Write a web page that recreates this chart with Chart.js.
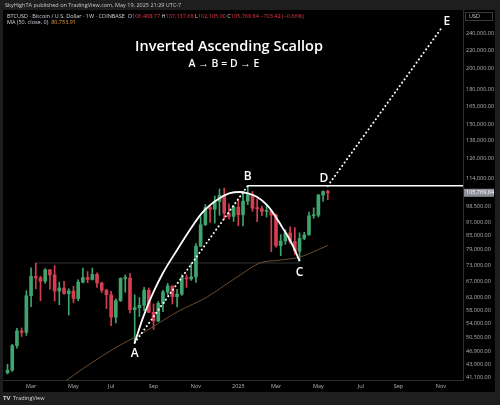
<!DOCTYPE html>
<html>
<head>
<meta charset="utf-8">
<script src="https://cdn.jsdelivr.net/npm/chart.js@4.4.1/dist/chart.umd.min.js"></script>
<style>
  html, body { margin: 0; padding: 0; background: #1e1e1e; }
  #wrap { width: 500px; height: 405px; }
</style>
</head>
<body>
<div id="wrap"><canvas id="myChart" width="500" height="405"></canvas></div>
<script>
// weekly candles, week 0 = 2024-01-29 (BTCUSD, Coinbase)
const weekOpen = [42000, 42600, 48300, 52100, 51700, 62400, 68900, 68400, 67200, 71300, 69400, 63900, 64900, 63100, 63900, 61500, 66900, 68500, 67800, 69600,
  66600, 64200, 62700, 55900, 60800, 68200, 68300, 58100, 58700, 59400, 64200, 57300, 54800, 60000, 63600, 65600, 62100, 62900, 68400, 68000,
  68700, 80400, 89800, 98000, 97200, 101100, 104400, 95200, 93700, 98300, 94500, 101300, 104700, 97700, 97500, 96100, 96300, 94300, 80700, 82600,
  86100, 82400, 78400, 83700, 85200, 94000, 94300, 104600, 106488.77];
const weekHigh = [43900, 48600, 52800, 52900, 64000, 72000, 73800, 68900, 71700, 71300, 72800, 66900, 67200, 64700, 65500, 67700, 71900, 70600, 71900, 70200,
  66900, 64500, 63800, 61400, 68400, 69400, 70000, 62700, 61800, 65100, 64900, 59800, 60600, 64100, 66500, 65600, 64500, 69500, 69500, 73600,
  81500, 93500, 99600, 98700, 104000, 107800, 108300, 99900, 99000, 102500, 106400, 109600, 106500, 102500, 98800, 99500, 96500, 95000, 85300, 87500,
  88800, 88500, 86100, 86400, 95800, 97900, 104900, 106800, 107137.68];
const weekLow = [41800, 42300, 47700, 50600, 50900, 59000, 64600, 60800, 66500, 64500, 60700, 59600, 62800, 56500, 60200, 60800, 66600, 66700, 67600, 65100,
  63400, 58400, 53500, 54300, 60600, 63500, 57100, 49000, 56100, 57800, 57200, 52500, 54600, 57500, 62700, 59800, 58900, 62500, 65100, 67500,
  66800, 80200, 89400, 90800, 90500, 94200, 92200, 92500, 91300, 89300, 89200, 99500, 96200, 91200, 94100, 93400, 78200, 80000, 76600, 81200,
  81600, 77100, 74500, 83100, 85100, 92800, 93400, 101300, 102105.00];
const weekClose = [42600, 48300, 52100, 51700, 62400, 68900, 68400, 67200, 71300, 69400, 63900, 64900, 63100, 63900, 61500, 66900, 68500, 67800, 69600, 66600,
  64200, 62700, 55900, 60800, 68200, 68300, 58100, 58700, 59400, 64200, 57300, 54800, 60000, 63600, 65600, 62100, 62900, 68400, 68000, 68700,
  80400, 89800, 98000, 97200, 101100, 104400, 95200, 93700, 98300, 94500, 101300, 104700, 97700, 97500, 96100, 96300, 94300, 80700, 82600, 86100,
  82400, 78400, 83700, 85200, 94000, 94300, 104600, 106473.26, 105769.84];

// 50 week moving average
const maWeek = [10, 12.6, 22.8, 28.8, 36.0, 42.4, 46.2, 49.4, 53.6, 57.9, 62.1, 68];
const maValue = [38500, 40500, 47700, 51600, 57400, 62000, 65900, 69400, 73800, 74900, 76100, 80753.91];

// hand drawn scallop arc A -> B -> C
const scallopWeek = [27, 28.8, 30.9, 33.0, 36.0, 38.7, 41.3, 43.0, 45.1, 47.2, 49.4, 50.8, 53.0, 55.1, 56.4, 58.3, 59.6, 61.0, 62.0];
const scallopPrice = [49000, 55900, 63300, 70100, 78900, 87400, 95400, 99300, 103000, 105600, 106200, 105600, 103500, 99300, 95400, 88700, 84300, 78900, 74500];

// pattern points
const pointNames = ['A', 'B', 'C', 'D', 'E'];
const pointWeek = [27, 51, 62, 68, 92];
const pointPrice = [49000, 109600, 74500, 109600, 245000];

// old high line (Mar 2024 high)
const oldHighWeek = [6, 62];
const oldHighPrice = 73800;

// axis ticks
const monthTickWeek = [5, 14, 22, 31, 40, 49, 57, 66, 75, 83, 92];
const monthTickLabel = ['Mar', 'May', 'Jul', 'Sep', 'Nov', '2025', 'Mar', 'May', 'Jul', 'Sep', 'Nov'];
const priceTicks = [240000, 220000, 200000, 180000, 165000, 150000, 138000, 126000, 114000, 98500, 91000, 85000,
  79000, 73000, 67000, 62000, 58000, 54000, 50500, 46900, 43900, 41100];

const upColor = '#3fa46d';
const downColor = '#d43f50';
const fontFam = "'Open Sans', sans-serif";

const candleColors = weekOpen.map((o, i) => weekClose[i] >= o ? upColor : downColor);
const pt = (i) => ({x: pointWeek[i], y: pointPrice[i]});

function fmt(v) {
  return v.toLocaleString('en-US', {minimumFractionDigits: 2, maximumFractionDigits: 2});
}

function drawRuns(ctx, x, y, runs) {
  runs.forEach(([txt, col]) => {
    ctx.fillStyle = col;
    ctx.fillText(txt, x, y);
    x += ctx.measureText(txt).width;
  });
}

const decor = {
  id: 'decor',
  beforeDraw(chart) {
    const ctx = chart.ctx;
    ctx.save();
    ctx.fillStyle = '#1e1e1e';
    ctx.fillRect(0, 0, 500, 405);
    ctx.fillStyle = '#000';
    ctx.fillRect(3, 10, 492, 382);
    ctx.restore();
  },
  afterDraw(chart) {
    const ctx = chart.ctx;
    const xs = chart.scales.x, ys = chart.scales.y;
    const last = weekClose.length - 1;
    ctx.save();
    ctx.textBaseline = 'middle';

    // header bar
    ctx.font = '5.5px ' + fontFam;
    ctx.textAlign = 'left';
    ctx.fillStyle = '#c8c8c8';
    ctx.fillText('SkyHighTA published on TradingView.com, May 19, 2025 21:29 UTC-7', 5, 5);

    // legend
    const grey = '#d1d4dc', red = '#f23645';
    const chg = weekClose[last] - weekClose[last - 1];
    drawRuns(ctx, 7, 16, [
      ['BTCUSD · Bitcoin / U.S. Dollar · 1W · COINBASE  ', grey],
      ['O', grey], [fmt(weekOpen[last]) + ' ', red],
      ['H', grey], [fmt(weekHigh[last]) + ' ', red],
      ['L', grey], [fmt(weekLow[last]) + ' ', red],
      ['C', grey], [fmt(weekClose[last]) + ' ', red],
      [fmt(chg).replace('-', '−') + ' (' + (chg / weekClose[last - 1] * 100).toFixed(2).replace('-', '−') + '%)', red]
    ]);
    drawRuns(ctx, 7, 22, [['MA (50, close, 0)  ', grey], [fmt(maValue[maValue.length - 1]), '#e8a33a']]);

    // USD box
    ctx.strokeStyle = '#3a3a3a';
    ctx.lineWidth = 1;
    ctx.strokeRect(465.5, 12.5, 27, 8);
    ctx.fillStyle = '#c8c8c8';
    ctx.fillText('USD', 469, 16.5);

    // last price box
    const py = ys.getPixelForValue(weekClose[last]);
    ctx.fillStyle = '#8b8e98';
    ctx.fillRect(464, py - 4, 30, 8);
    ctx.fillStyle = '#fff';
    ctx.fillText(fmt(weekClose[last]), 466, py);

    // title
    ctx.textAlign = 'center';
    ctx.fillStyle = '#fff';
    ctx.font = '600 14.5px ' + fontFam;
    ctx.fillText('Inverted Ascending Scallop', 229, 47);
    ctx.font = '600 10.5px ' + fontFam;
    ctx.fillText('A → B = D → E', 224, 64);

    // point labels
    const offs = [[0, 11], [0, -9], [0, 11], [-4, -7], [6, -7]];
    ctx.font = '600 12px ' + fontFam;
    pointNames.forEach((n, i) => {
      const x = xs.getPixelForValue(pointWeek[i]);
      const y = ys.getPixelForValue(pointPrice[i]);
      ctx.fillText(n, x + offs[i][0], y + offs[i][1]);
    });

    // footer
    ctx.textAlign = 'left';
    ctx.fillStyle = '#d1d4dc';
    ctx.font = 'bold 6px ' + fontFam;
    ctx.fillText('TV', 3, 398);
    ctx.font = '5.5px ' + fontFam;
    ctx.fillText('TradingView', 13, 398);
    ctx.restore();
  }
};

const ctx = document.querySelector('#myChart').getContext('2d');
const chart = new Chart(ctx, {
  type: 'bar',
  data: {
    datasets: [
      {
        type: 'line', label: 'A-B', data: [pt(0), pt(1)],
        borderColor: '#fff', borderWidth: 2, borderDash: [0.1, 4], borderCapStyle: 'round',
        pointRadius: 0, order: 0
      },
      {
        type: 'line', label: 'D-E', data: [pt(3), pt(4)],
        borderColor: '#fff', borderWidth: 2, borderDash: [0.1, 4], borderCapStyle: 'round',
        pointRadius: 0, order: 0
      },
      {
        type: 'line', label: 'B level', data: [pt(1), {x: 97, y: pointPrice[1]}],
        borderColor: '#fff', borderWidth: 1.5, pointRadius: 0, order: 0
      },
      {
        type: 'line', label: 'scallop',
        data: scallopWeek.map((w, i) => ({x: w, y: scallopPrice[i]})),
        borderColor: '#fff', borderWidth: 1.8, pointRadius: 0, cubicInterpolationMode: 'monotone', order: 0
      },
      {
        type: 'line', label: 'MA 50',
        data: maWeek.map((w, i) => ({x: w, y: maValue[i]})),
        borderColor: '#6e4a2b', borderWidth: 1, pointRadius: 0, cubicInterpolationMode: 'monotone', order: 1
      },
      {
        type: 'line', label: 'old high',
        data: oldHighWeek.map(w => ({x: w, y: oldHighPrice})),
        borderColor: '#333', borderWidth: 1, pointRadius: 0, order: 5
      },
      {
        label: 'body',
        data: weekOpen.map((o, i) => ({x: i, y: [o, weekClose[i]]})),
        backgroundColor: candleColors, barThickness: 3, minBarLength: 1, grouped: false, order: 2
      },
      {
        label: 'wick',
        data: weekLow.map((l, i) => ({x: i, y: [l, weekHigh[i]]})),
        backgroundColor: candleColors, barThickness: 1, grouped: false, order: 3
      }
    ]
  },
  options: {
    responsive: false,
    animation: false,
    layout: {padding: {left: 3, top: 10, right: 5, bottom: 13}},
    plugins: {legend: {display: false}, tooltip: {enabled: false}},
    scales: {
      x: {
        type: 'linear', offset: false, min: -0.96, max: 96.7,
        grid: {display: false, drawTicks: false},
        border: {display: true, color: '#2e2e2e'},
        afterBuildTicks(axis) { axis.ticks = monthTickWeek.map(v => ({value: v})); },
        afterFit(scale) { scale.height = 12; },
        ticks: {
          autoSkip: false, maxRotation: 0, padding: 3, color: '#b2b5be',
          font: {size: 5.5, family: fontFam},
          callback: (v) => monthTickLabel[monthTickWeek.indexOf(v)]
        }
      },
      y: {
        type: 'logarithmic', position: 'right', min: 40500, max: 270000,
        grid: {display: false, drawTicks: false},
        border: {display: true, color: '#2e2e2e'},
        afterBuildTicks(axis) { axis.ticks = priceTicks.map(v => ({value: v})); },
        afterFit(scale) { scale.width = 32; },
        ticks: {
          autoSkip: false, padding: 3, color: '#b2b5be',
          font: {size: 5.5, family: fontFam},
          callback: (v) => fmt(v)
        }
      }
    }
  },
  plugins: [decor]
});
</script>
</body>
</html>
